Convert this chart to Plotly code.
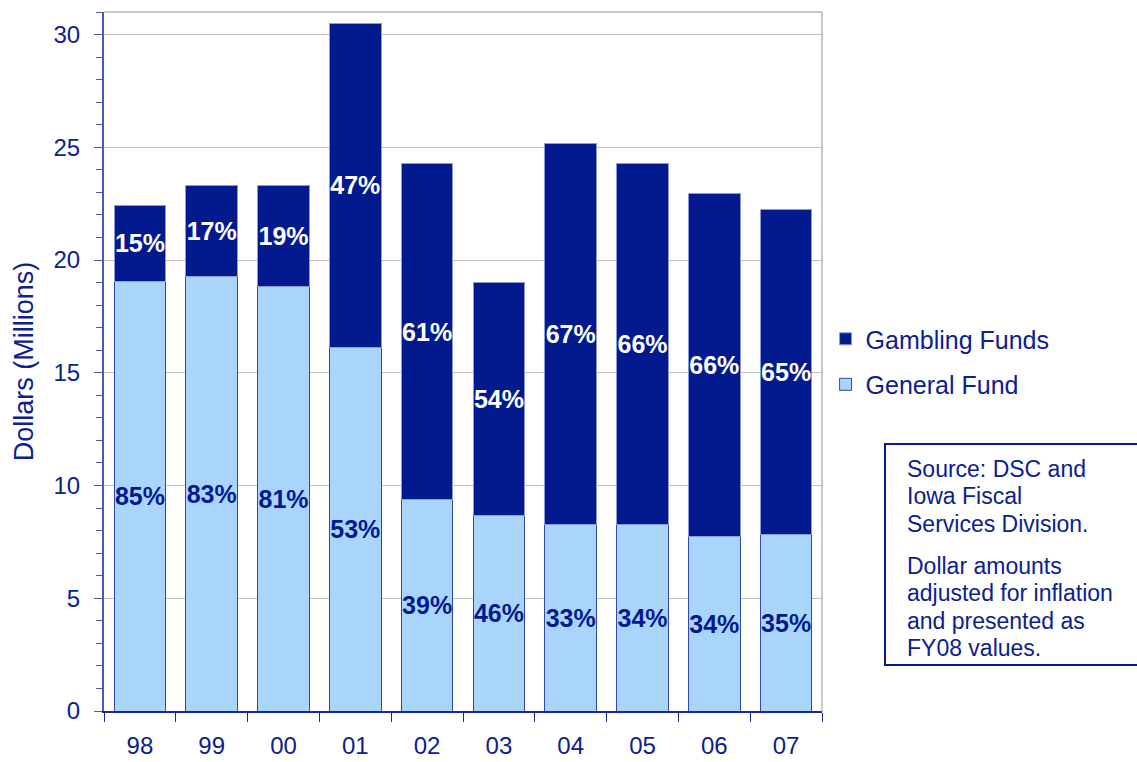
import plotly.graph_objects as go

years = ["98", "99", "00", "01", "02", "03", "04", "05", "06", "07"]
general_fund = [19.07, 19.29, 18.82, 16.14, 9.36, 8.69, 8.29, 8.25, 7.72, 7.85]
gambling_funds = [3.37, 4.00, 4.48, 14.34, 14.90, 10.33, 16.90, 16.01, 15.21, 14.41]
general_pct = ["85%", "83%", "81%", "53%", "39%", "46%", "33%", "34%", "34%", "35%"]
gambling_pct = ["15%", "17%", "19%", "47%", "61%", "54%", "67%", "66%", "66%", "65%"]
note_lines_1 = ["Source: DSC and", "Iowa Fiscal", "Services Division."]
note_lines_2 = ["Dollar amounts", "adjusted for inflation", "and presented as", "FY08 values."]

NAVY = "#031A8F"
LIGHT = "#A9D5FC"
TXT = "#0C2090"
FONT = "Arial, Liberation Sans, sans-serif"

fig = go.Figure()
fig.add_trace(go.Bar(
    x=years, y=general_fund, name="General Fund",
    marker=dict(color=LIGHT, line=dict(color="#3346AA", width=1)),
    text=general_pct, textposition="inside", insidetextanchor="middle",
    textangle=0, constraintext="none",
    textfont=dict(color=NAVY, size=25, family=FONT, weight="bold"),
    legendgroup="g2", legendrank=2, width=0.72,
))
fig.add_trace(go.Bar(
    x=years, y=gambling_funds, name="Gambling Funds",
    marker=dict(color=NAVY, line=dict(color="#8E9AD8", width=1)),
    text=gambling_pct, textposition="inside", insidetextanchor="middle",
    textangle=0, constraintext="none",
    textfont=dict(color="white", size=25, family=FONT, weight="bold"),
    legendgroup="g1", legendrank=1, width=0.72,
))

fig.update_layout(
    width=1137, height=762,
    margin=dict(l=104, r=315, t=12, b=51, autoexpand=False),
    barmode="stack",
    plot_bgcolor="white", paper_bgcolor="white",
    font=dict(family=FONT, color=TXT, size=24),
    showlegend=True,
    legend=dict(
        x=1.005, xanchor="left", y=0.565, yanchor="top",
        traceorder="grouped", tracegroupgap=10,
        font=dict(size=25, color=TXT, family=FONT),
        bgcolor="rgba(0,0,0,0)",
    ),
    xaxis=dict(
        type="category", showgrid=False, automargin=False,
        showline=True, linecolor="#14289A", linewidth=2,
        ticks="outside", tickson="boundaries", ticklen=9, tickcolor="#14289A",
        tickfont=dict(size=24, color=TXT), ticklabelstandoff=12,
    ),
    yaxis=dict(
        range=[0, 31], tickvals=[0, 5, 10, 15, 20, 25, 30], automargin=False,
        showgrid=True, gridcolor="#C0C0C0", gridwidth=1,
        showline=True, linecolor="#4A5AB4", linewidth=2,
        ticks="outside", ticklen=8, tickcolor="#4A5AB4",
        minor=dict(dtick=1, ticks="outside", ticklen=6, tickcolor="#4A5AB4", showgrid=False),
        tickfont=dict(size=24, color=TXT), ticklabelstandoff=9,
        title=dict(text="Dollars (Millions)", font=dict(size=27, color=TXT), standoff=12),
        zeroline=False,
    ),
)

# plot area border (top & right) in gray
fig.add_shape(type="line", xref="paper", yref="paper", x0=0, x1=1, y0=1, y1=1,
              line=dict(color="#B8B8B8", width=1.5), layer="below")
fig.add_shape(type="line", xref="paper", yref="paper", x0=1, x1=1, y0=0, y1=1,
              line=dict(color="#B8B8B8", width=1.5), layer="below")

# note box
fig.add_shape(type="rect", xref="paper", yref="paper",
              x0=(885 - 104) / 718, x1=(1180 - 104) / 718,
              y0=(711 - 665) / 699, y1=(711 - 444) / 699,
              line=dict(color=NAVY, width=2), fillcolor="white", layer="above")

def add_lines(lines, y_start):
    for i, t in enumerate(lines):
        ypix = y_start + i * 27.3
        fig.add_annotation(text=t, xref="paper", yref="paper",
                           x=(905 - 104) / 718, xanchor="left",
                           y=(711 - ypix) / 699, yanchor="middle",
                           showarrow=False, font=dict(size=23, color=TXT, family=FONT))

add_lines(note_lines_1, 469)
add_lines(note_lines_2, 566)

fig.write_html(
    "out.html",
    config={"displayModeBar": False},
    post_script="document.body.style.margin='0';document.body.style.overflow='hidden';",
)
